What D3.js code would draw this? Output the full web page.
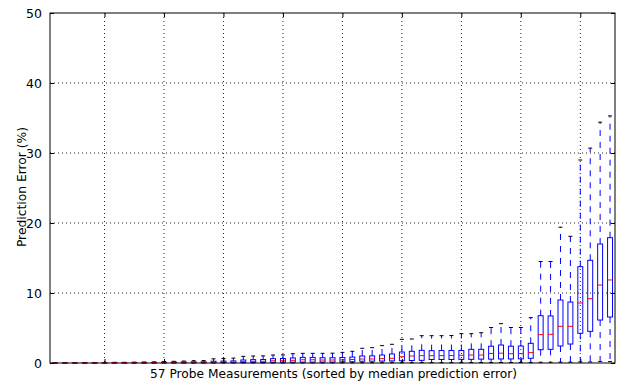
<!DOCTYPE html>
<html>
<head>
<meta charset="utf-8">
<script src="https://cdn.jsdelivr.net/npm/d3@7"></script>
<style>
  body { margin: 0; background: white; }
  text { font-family: "DejaVu Sans", sans-serif; fill: black; }
</style>
</head>
<body>
<div id="canvas"></div>
<script>
// DATA (prediction error %, one entry per probe, sorted by median)
const lowWhisker = [0, 0, 0, 0, 0, 0, 0, 0, 0, 0, 0, 0, 0, 0, 0, 0, 0, 0.01, 0.01, 0.01,
  0.01, 0.01, 0.01, 0.01, 0.01, 0.02, 0.02, 0.02, 0.02, 0.02, 0.02, 0.03, 0.03, 0.03, 0.04, 0.04, 0.04, 0.05, 0.05, 0.05,
  0.05, 0.05, 0.06, 0.06, 0.06, 0.07, 0.07, 0.07, 0.08, 0.1, 0.1, 0.12, 0.12, 0.15, 0.15, 0.2, 0.2];
const q1 = [0.01, 0.01, 0.01, 0.01, 0.01, 0.01, 0.02, 0.02, 0.02, 0.02, 0.03, 0.03, 0.03, 0.04, 0.04, 0.04, 0.05, 0.05, 0.06, 0.07,
  0.08, 0.08, 0.1, 0.1, 0.11, 0.12, 0.12, 0.13, 0.13, 0.15, 0.18, 0.25, 0.26, 0.28, 0.3, 0.32, 0.35, 0.38, 0.5, 0.5,
  0.5, 0.52, 0.52, 0.55, 0.55, 0.58, 0.58, 0.6, 0.67, 1.9, 1.95, 2.43, 2.71, 4.24, 4.52, 6.14, 6.57];
const median = [0.02, 0.02, 0.02, 0.02, 0.03, 0.03, 0.04, 0.04, 0.05, 0.05, 0.06, 0.07, 0.08, 0.09, 0.1, 0.1, 0.12, 0.13, 0.14, 0.19,
  0.24, 0.25, 0.32, 0.33, 0.38, 0.46, 0.46, 0.42, 0.43, 0.45, 0.5, 0.57, 0.58, 0.62, 0.67, 0.9, 1.0, 1.05, 1.05, 1.06,
  1.06, 1.1, 1.14, 1.14, 1.36, 1.4, 1.33, 1.33, 1.48, 4.05, 4.1, 5.24, 5.24, 8.57, 9.19, 11.14, 11.86];
const q3 = [0.03, 0.03, 0.04, 0.04, 0.05, 0.05, 0.06, 0.07, 0.08, 0.09, 0.1, 0.12, 0.14, 0.15, 0.16, 0.17, 0.25, 0.27, 0.3, 0.43,
  0.48, 0.5, 0.62, 0.64, 0.72, 0.8, 0.8, 0.75, 0.76, 0.78, 0.85, 1.0, 1.02, 1.14, 1.29, 1.57, 1.67, 1.81, 1.76, 1.78,
  1.78, 1.78, 1.95, 1.95, 2.4, 2.57, 2.4, 2.43, 2.81, 6.76, 6.72, 9.0, 8.71, 13.76, 14.67, 17.0, 17.9];
const highWhisker = [0.05, 0.05, 0.06, 0.06, 0.07, 0.08, 0.1, 0.1, 0.12, 0.14, 0.16, 0.2, 0.24, 0.28, 0.33, 0.35, 0.6, 0.65, 0.7, 0.95,
  1.0, 1.02, 1.14, 1.16, 1.33, 1.38, 1.38, 1.38, 1.4, 1.52, 1.67, 2.1, 2.19, 2.48, 2.67, 3.38, 3.43, 3.9, 3.9, 3.9,
  3.92, 4.19, 4.19, 4.33, 5.07, 5.62, 5.07, 5.07, 6.48, 14.5, 14.5, 19.4, 18.1, 29.0, 30.7, 34.4, 35.3];
const xTicks = [6, 12, 18, 24, 30, 36, 42, 48, 54];
const yTicks = [0, 10, 20, 30, 40, 50];

const boxes = median.map((m, i) => ({
  pos: i + 1, lo: lowWhisker[i], q1: q1[i], med: m, q3: q3[i], hi: highWhisker[i]
}));

// DIMENSIONS
const width = 619;
const height = 383;
const margin = { top: 13, right: 4, bottom: 20, left: 50 };
const plot_width = width - margin.left - margin.right;
const plot_height = height - margin.top - margin.bottom;

// CANVAS
const canvas = d3.select("#canvas")
  .append("svg")
  .attr("width", width)
  .attr("height", height);

const plot = canvas.append("g")
  .attr("transform", `translate(${margin.left}, ${margin.top})`);

// SCALES
const xScale = d3.scaleLinear().domain([0.5, 57.5]).range([0, plot_width]);
const yScale = d3.scaleLinear().domain([0, 50]).range([plot_height, 0]);

// GRID
plot.append("g").selectAll("line")
  .data(xTicks).join("line")
  .attr("x1", d => xScale(d)).attr("x2", d => xScale(d))
  .attr("y1", 0).attr("y2", plot_height)
  .attr("stroke", "#222").attr("stroke-width", 1)
  .attr("stroke-dasharray", "1,3");

plot.append("g").selectAll("line")
  .data(yTicks.slice(1, -1)).join("line")
  .attr("x1", 0).attr("x2", plot_width)
  .attr("y1", d => yScale(d)).attr("y2", d => yScale(d))
  .attr("stroke", "#222").attr("stroke-width", 1)
  .attr("stroke-dasharray", "1,3");

// BOXES
const boxW = xScale(1.5) - xScale(1);   // 0.5 units wide
const capW = xScale(1.4) - xScale(1);
const g = plot.append("g").selectAll("g")
  .data(boxes).join("g")
  .attr("transform", d => `translate(${xScale(d.pos)}, 0)`);

g.append("line")   // lower whisker
  .attr("y1", d => yScale(d.q1)).attr("y2", d => yScale(d.lo))
  .attr("stroke", "blue").attr("stroke-dasharray", "6,6");
g.append("line")   // upper whisker
  .attr("y1", d => yScale(d.q3)).attr("y2", d => yScale(d.hi))
  .attr("stroke", "blue").attr("stroke-dasharray", "6,6");
g.append("line")
  .attr("x1", -capW / 2).attr("x2", capW / 2)
  .attr("y1", d => yScale(d.hi)).attr("y2", d => yScale(d.hi))
  .attr("stroke", "black");
g.append("line")
  .attr("x1", -capW / 2).attr("x2", capW / 2)
  .attr("y1", d => yScale(d.lo)).attr("y2", d => yScale(d.lo))
  .attr("stroke", "black");
g.append("rect")
  .attr("x", -boxW / 2).attr("width", boxW)
  .attr("y", d => yScale(d.q3))
  .attr("height", d => yScale(d.q1) - yScale(d.q3))
  .attr("fill", "none").attr("stroke", "blue");
g.append("line")
  .attr("x1", -boxW / 2).attr("x2", boxW / 2)
  .attr("y1", d => yScale(d.med)).attr("y2", d => yScale(d.med))
  .attr("stroke", "red");

// AXES (matplotlib style: ticks inside, on all four sides)
const yLeft = d3.axisLeft(yScale).tickValues(yTicks).tickSizeInner(-4).tickSizeOuter(0).tickPadding(8);
const yRight = d3.axisRight(yScale).tickValues(yTicks).tickSizeInner(-4).tickSizeOuter(0).tickFormat("");
const xBottom = d3.axisBottom(xScale).tickValues(xTicks).tickSizeInner(-4).tickSizeOuter(0).tickFormat("");
const xTop = d3.axisTop(xScale).tickValues(xTicks).tickSizeInner(-4).tickSizeOuter(0).tickFormat("");

const axes = [
  plot.append("g").call(yLeft),
  plot.append("g").attr("transform", `translate(${plot_width}, 0)`).call(yRight),
  plot.append("g").attr("transform", `translate(0, ${plot_height})`).call(xBottom),
  plot.append("g").call(xTop)
];
axes.forEach(a => {
  a.selectAll(".domain").remove();
  a.selectAll("line").attr("stroke", "black");
  a.selectAll("text").attr("font-size", 12.5).attr("font-family", "DejaVu Sans");
});

// FRAME
plot.append("rect")
  .attr("width", plot_width).attr("height", plot_height)
  .attr("fill", "none").attr("stroke", "black").attr("stroke-width", 1);

// LABELS
plot.append("text")
  .attr("x", plot_width / 2 + 1).attr("y", plot_height + 15)
  .attr("text-anchor", "middle")
  .attr("font-size", 12.2)
  .text("57 Probe Measurements (sorted by median prediction error)");

plot.append("text")
  .attr("transform", `translate(${-margin.left + 26}, ${plot_height / 2 - 1}) rotate(-90)`)
  .attr("text-anchor", "middle")
  .attr("font-size", 12.3)
  .text("Prediction Error (%)");
</script>
</body>
</html>
